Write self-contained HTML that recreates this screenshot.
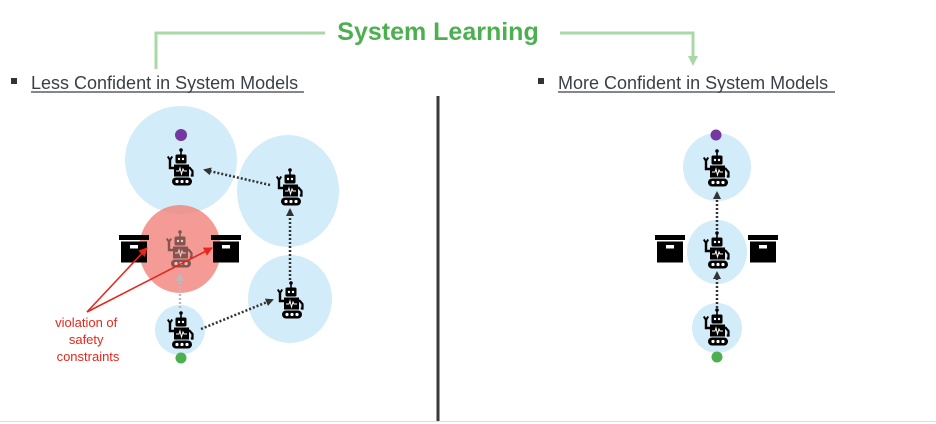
<!DOCTYPE html>
<html><head><meta charset="utf-8"><style>
html,body{margin:0;padding:0;background:#fff;}
svg{display:block;}
text{font-family:"Liberation Sans",sans-serif;}
</style></head><body>
<svg width="936" height="424" viewBox="0 0 936 424" xmlns="http://www.w3.org/2000/svg">
<defs>
<symbol id="robot" viewBox="0 0 28 38" width="28" height="38">
  <line x1="14" y1="1.5" x2="14" y2="7" stroke="#000" stroke-width="1.6"/>
  <circle cx="14" cy="2" r="1.8" fill="#000"/>
  <rect x="8.5" y="6.5" width="11" height="9" rx="1.5" fill="#000"/>
  <circle cx="12" cy="11" r="1.2" fill="#fff"/>
  <circle cx="16" cy="11" r="1.2" fill="#fff"/>
  <rect x="7" y="16.5" width="15" height="12" fill="#000"/>
  <polyline points="9,23 12,23 13,20 14.5,26 16,21 17,23 20,23" fill="none" stroke="#fff" stroke-width="1"/>
  <polyline points="7,20 3,20 3,12" fill="none" stroke="#000" stroke-width="2.4"/>
  <polyline points="0.8,8.5 3,12 5.2,8.5" fill="none" stroke="#000" stroke-width="2"/>
  <polyline points="22,19 25.5,23 25.5,27.5 23.8,27.5" fill="none" stroke="#000" stroke-width="2.2"/>
  <rect x="5" y="29.5" width="20" height="8" rx="4" fill="#000"/>
  <circle cx="10" cy="33.5" r="1.6" fill="#fff"/>
  <circle cx="15" cy="33.5" r="1.6" fill="#fff"/>
  <circle cx="20" cy="33.5" r="1.6" fill="#fff"/>
</symbol>
<symbol id="box" viewBox="0 0 30 28" width="30" height="28">
  <rect x="0" y="0" width="30" height="5" fill="#000"/>
  <rect x="2" y="6.5" width="26" height="21" fill="#000"/>
  <rect x="11" y="10" width="8" height="3.5" fill="#fff"/>
</symbol>
<marker id="ah" markerWidth="8" markerHeight="8" refX="6" refY="4" orient="auto" markerUnits="userSpaceOnUse">
  <path d="M0,0 L8,4 L0,8 Z" fill="#333"/>
</marker>
<marker id="ahl" markerWidth="8" markerHeight="8" refX="6" refY="4" orient="auto" markerUnits="userSpaceOnUse">
  <path d="M0,0 L8,4 L0,8 Z" fill="#bbb"/>
</marker>
<marker id="ahr" markerWidth="9" markerHeight="9" refX="8" refY="4.5" orient="auto" markerUnits="userSpaceOnUse">
  <path d="M0,0 L9,4.5 L0,9 Z" fill="#e8261b"/>
</marker>
</defs>

<text x="438" y="40" text-anchor="middle" font-size="25" font-weight="bold" fill="#4cb050">System Learning</text>
<polyline points="325,33 156,33 156,69" fill="none" stroke="#a8d8a5" stroke-width="3"/>
<polyline points="560,33 693,33 693,57" fill="none" stroke="#a8d8a5" stroke-width="3"/>
<path d="M688,56 L698,56 L693,66 Z" fill="#a8d8a5"/>

<rect x="11" y="78" width="6" height="6" fill="#333"/>
<text x="31" y="89" font-size="18" fill="#3a3f47">Less Confident in System Models</text>
<line x1="31" y1="92" x2="304" y2="92" stroke="#3a3f47" stroke-width="1.3"/>
<rect x="538" y="78" width="6" height="6" fill="#333"/>
<text x="558" y="89" font-size="18" fill="#3a3f47">More Confident in System Models</text>
<line x1="558" y1="92" x2="835" y2="92" stroke="#3a3f47" stroke-width="1.3"/>

<line x1="438" y1="96" x2="438" y2="421" stroke="#3a3a3a" stroke-width="3"/>
<line x1="0" y1="421.5" x2="936" y2="421.5" stroke="#ddd" stroke-width="1"/>

<ellipse cx="181" cy="160" rx="56" ry="54" fill="#d3ecf9"/>
<ellipse cx="288" cy="191" rx="51" ry="56" fill="#d3ecf9"/>
<ellipse cx="290" cy="299" rx="42" ry="44" fill="#d3ecf9"/>
<circle cx="180" cy="330" r="25" fill="#d3ecf9"/>
<ellipse cx="180" cy="249" rx="41" ry="44" fill="#f0857c" fill-opacity="0.82"/>

<circle cx="181" cy="135" r="6" fill="#7537a0"/>
<circle cx="181" cy="358" r="5.5" fill="#4caf50"/>

<line x1="270" y1="185" x2="205" y2="170" stroke="#333" stroke-width="2.5" stroke-dasharray="2,2" marker-end="url(#ah)"/>
<line x1="290" y1="280" x2="290" y2="210" stroke="#333" stroke-width="2.5" stroke-dasharray="2,2" marker-end="url(#ah)"/>
<line x1="201" y1="329" x2="272" y2="300" stroke="#333" stroke-width="2.5" stroke-dasharray="2,2" marker-end="url(#ah)"/>
<line x1="180" y1="308" x2="180" y2="275" stroke="#bbb" stroke-width="2.5" stroke-dasharray="2,2" marker-end="url(#ahl)"/>

<use href="#robot" x="167" y="148"/>
<use href="#robot" x="276" y="168"/>
<use href="#robot" x="277" y="281"/>
<use href="#robot" x="167" y="311"/>
<g opacity="0.45"><use href="#robot" x="166" y="230"/></g>

<use href="#box" x="119" y="235"/>
<use href="#box" x="211" y="235"/>

<line x1="87" y1="312" x2="147" y2="248" stroke="#e8261b" stroke-width="1.6" marker-end="url(#ahr)"/>
<line x1="87" y1="312" x2="212" y2="248" stroke="#e8261b" stroke-width="1.6" marker-end="url(#ahr)"/>
<text font-size="13" fill="#e8261b" text-anchor="middle">
  <tspan x="88" y="327">violation of</tspan>
  <tspan x="88" y="344">safety</tspan>
  <tspan x="88" y="361">constraints</tspan>
</text>

<circle cx="717" cy="167" r="34" fill="#d3ecf9"/>
<ellipse cx="717" cy="252" rx="30" ry="32" fill="#d3ecf9"/>
<circle cx="717" cy="328" r="25" fill="#d3ecf9"/>
<circle cx="716" cy="135" r="5.5" fill="#7537a0"/>
<circle cx="717" cy="357" r="5.5" fill="#4caf50"/>
<line x1="717" y1="230" x2="717" y2="193" stroke="#333" stroke-width="2.5" stroke-dasharray="2,2" marker-end="url(#ah)"/>
<line x1="717" y1="308" x2="717" y2="273" stroke="#333" stroke-width="2.5" stroke-dasharray="2,2" marker-end="url(#ah)"/>
<use href="#robot" x="703" y="149"/>
<use href="#robot" x="703" y="231"/>
<use href="#robot" x="703" y="308"/>
<use href="#box" x="655" y="235"/>
<use href="#box" x="748" y="235"/>
</svg>
</body></html>
